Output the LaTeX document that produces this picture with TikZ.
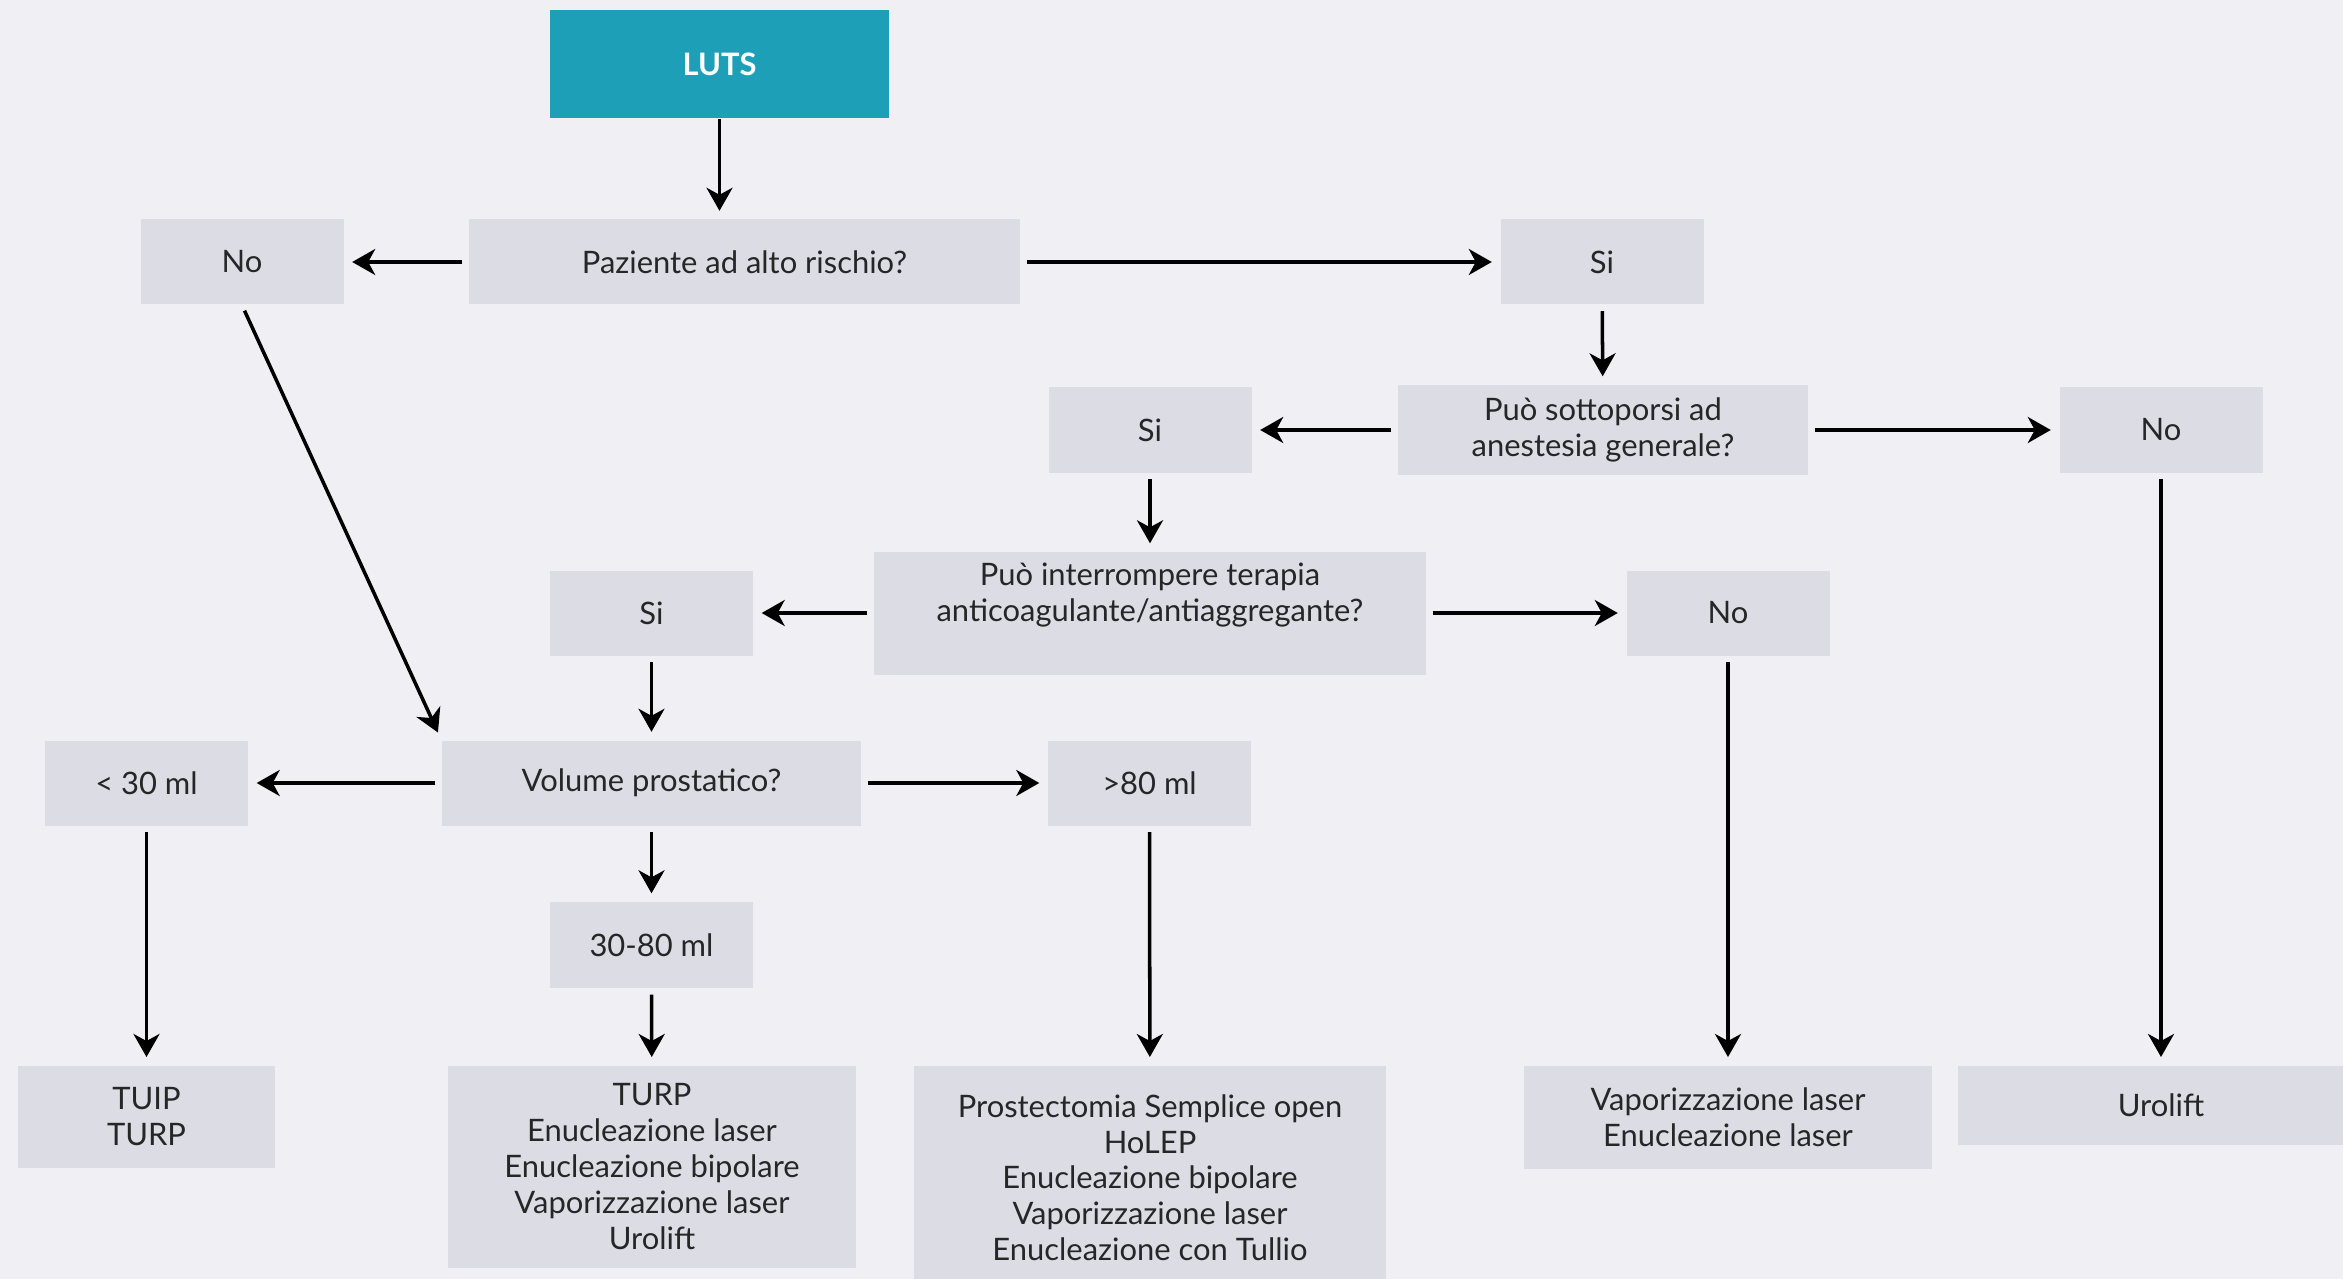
\documentclass[tikz,border=0pt]{standalone}
\usepackage{fontspec}
\setmainfont{Lato}
\usetikzlibrary{arrows.meta, positioning, calc}
\definecolor{bgcol}{HTML}{F0EFF4}
\definecolor{boxcol}{HTML}{DCDCE4}
\definecolor{tealcol}{HTML}{1DA0B7}
\definecolor{txtcol}{HTML}{262626}

\begin{document}
\begin{tikzpicture}[
        box/.style={rectangle, fill=boxcol, minimum width=2.03cm, minimum height=0.85cm, align=center, text=txtcol, inner sep=0pt, font=\fontsize{8.8}{10.2}\selectfont},
        start/.style={box, fill=tealcol, text=white, minimum width=3.39cm, minimum height=1.08cm, font=\fontsize{8.8}{10.2}\selectfont\bfseries},
        wide/.style={box, minimum width=4.08cm},
        result/.style={box, anchor=north},
        arrow/.style={-{Stealth[length=2.3mm, width=2.6mm, inset=0.7mm]}, line width=1pt, shorten <=0.6mm, shorten >=0.8mm}
    ]
    \fill[bgcol] (0,0) rectangle (23.43,-12.79);
    \useasboundingbox (0,0) rectangle (23.43,-12.79);

    % Start
    \node[start] (luts) at (7.195,-0.64) {LUTS};

    % Question 1: high risk
    \node[box, minimum width=5.51cm] (risk) at (7.445,-2.62) {Paziente ad alto rischio?};
    \node[box] (no1) at (2.42,-2.62) {No};
    \node[box] (si1) at (16.02,-2.62) {Si};

    % Question 2: general anaesthesia
    \node[box, minimum width=4.10cm, minimum height=0.9cm] (anest) at (16.03,-4.30) {Può sottoporsi ad\\anestesia generale?};
    \node[box] (si2) at (11.50,-4.30) {Si};
    \node[box] (no2) at (21.61,-4.30) {No};

    % Question 3: anticoagulants
    \node[box, minimum width=5.52cm, minimum height=1.23cm, text depth=0.43cm] (interr) at (11.50,-6.135) {Può interrompere terapia\\anticoagulante/antiaggregante?};
    \node[box] (si3) at (6.515,-6.13) {Si};
    \node[box] (no3) at (17.28,-6.13) {No};

    % Question 4: prostate volume
    \node[box, minimum width=4.19cm] (vol) at (6.515,-7.83) {Volume prostatico?};
    \node[box] (lt30) at (1.465,-7.83) {< 30 ml};
    \node[box] (gt80) at (11.495,-7.83) {>80 ml};
    \node[box, minimum height=0.86cm] (mid) at (6.515,-9.45) {30-80 ml};

    % Treatments
    \node[result, minimum width=2.57cm, minimum height=1.02cm] (tuip) at (1.465,-10.65) {TUIP\\TURP};
    \node[result, wide, minimum height=2.02cm] (turp) at (6.52,-10.65) {TURP\\Enucleazione laser\\Enucleazione bipolare\\Vaporizzazione laser\\Urolift};
    \node[result, minimum width=4.72cm, minimum height=2.24cm] (prost) at (11.50,-10.65) {Prostectomia Semplice open\\HoLEP\\Enucleazione bipolare\\Vaporizzazione laser\\Enucleazione con Tullio};
    \node[result, wide, minimum height=1.03cm] (vapor) at (17.28,-10.65) {Vaporizzazione laser\\Enucleazione laser};
    \node[result, minimum width=4.06cm, minimum height=0.79cm] (urolift) at (21.61,-10.65) {Urolift};

    % Arrows
    \draw[arrow, shorten <=0pt] (luts.south) -- (luts.south |- risk.north);
    \draw[arrow] (risk) -- (no1);
    \draw[arrow] (risk) -- (si1);
    \draw[arrow] (si1) -- (anest);
    \draw[arrow] (anest) -- (si2);
    \draw[arrow] (anest) -- (no2);
    \draw[arrow] (si2) -- (interr);
    \draw[arrow] (interr.west |- si3) -- (si3);
    \draw[arrow] (interr.east |- no3) -- (no3);
    \draw[arrow] (no1.south) -- (vol.north west);
    \draw[arrow] (si3) -- (vol);
    \draw[arrow] (vol) -- (lt30);
    \draw[arrow] (vol) -- (gt80);
    \draw[arrow] (vol) -- (mid);
    \draw[arrow] (mid) -- (turp);
    \draw[arrow] (lt30) -- (tuip);
    \draw[arrow] (gt80) -- (prost);
    \draw[arrow] (no3) -- (vapor);
    \draw[arrow] (no2) -- (urolift);

    \end{tikzpicture}
\end{document}
